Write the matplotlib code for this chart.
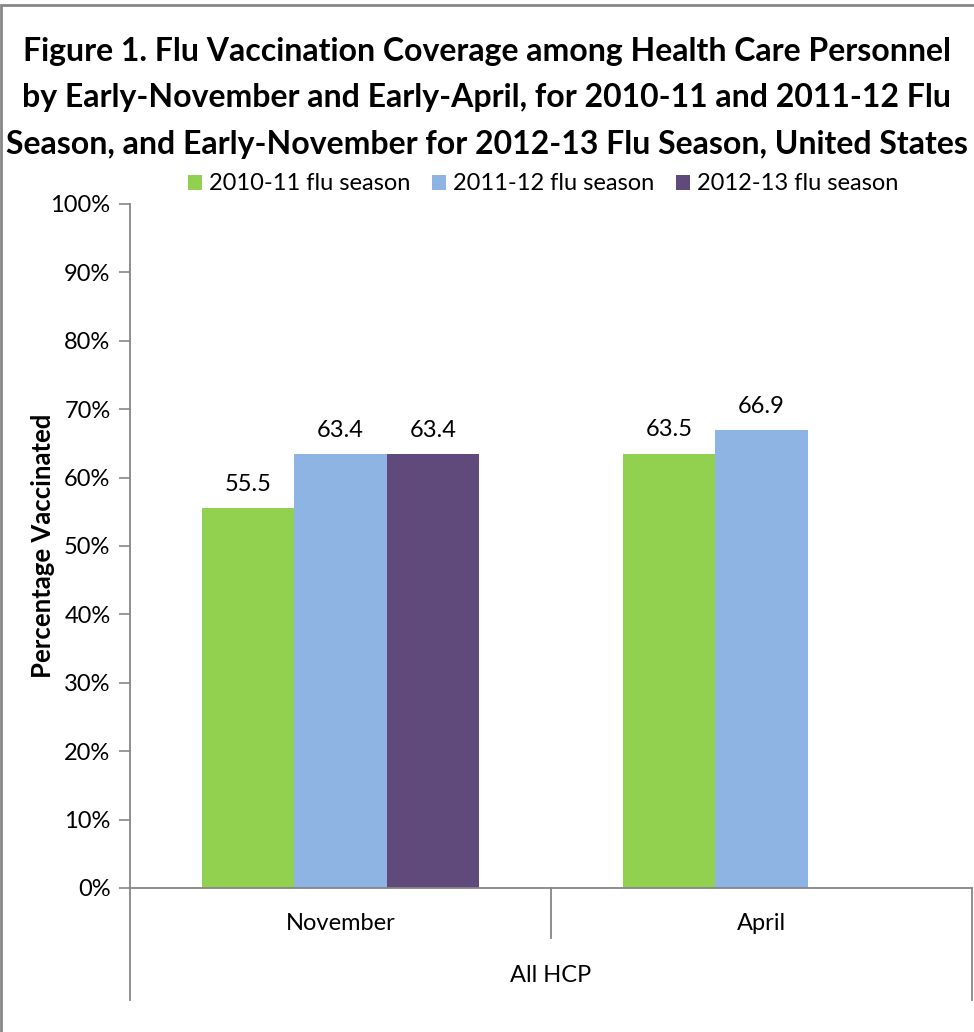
import matplotlib
matplotlib.use("Agg")
import matplotlib.pyplot as plt
from matplotlib.patches import Rectangle, Patch
from matplotlib.lines import Line2D
import numpy as np

plt.rcParams['font.family'] = ['Lato', 'DejaVu Sans']

categories = ["November", "April"]
group_label = "All HCP"
series_names = ["2010-11 flu season", "2011-12 flu season", "2012-13 flu season"]
values_2010 = [55.5, 63.5]
values_2011 = [63.4, 66.9]
values_2012 = [63.4, None]
series_values = [values_2010, values_2011, values_2012]
colors = ["#92D050", "#8EB4E3", "#604A7B"]
yticks = list(range(0, 101, 10))
title = ("Figure 1. Flu Vaccination Coverage among Health Care Personnel\n"
         "by Early-November and Early-April, for 2010-11 and 2011-12 Flu\n"
         "Season, and Early-November for 2012-13 Flu Season, United States")

W, H = 974, 1032
fig = plt.figure(figsize=(W / 100, H / 100), dpi=100)
ax = fig.add_axes([130 / W, 1 - 888 / H, (972 - 130) / W, (888 - 204) / H])

gray = "#868686"
FS = 17
bw = 0.22
x = np.arange(len(categories))
for i, (name, vals, c) in enumerate(zip(series_names, series_values, colors)):
    off = (i - 1) * bw
    for j, v in enumerate(vals):
        if v is None:
            continue
        ax.bar(x[j] + off, v, width=bw, color=c, edgecolor='none')
        ax.text(x[j] + off, v + 2.0, f"{v:.1f}", ha='center', va='bottom',
                fontsize=FS, color='black')

ax.set_xlim(-0.5, len(categories) - 0.5)
ax.set_ylim(0, 100)
ax.set_yticks(yticks)
ax.set_yticklabels([f"{t}%" for t in yticks], fontsize=FS)
ax.tick_params(axis='y', length=8, width=1.2, color=gray, pad=6)
ax.set_xticks([])
for s in ['top', 'right']:
    ax.spines[s].set_visible(False)
for s in ['left', 'bottom']:
    ax.spines[s].set_color(gray)
    ax.spines[s].set_linewidth(1.3)
ax.set_ylabel("Percentage Vaccinated", fontsize=18.5, fontweight='bold', labelpad=-3)

# multi-level category axis
tr = ax.get_xaxis_transform()
axh = (888 - 204)
def yax(px):
    return -px / axh
for xb in [-0.5, len(categories) - 0.5]:
    ax.add_line(Line2D([xb, xb], [0, yax(1000 - 888)], transform=tr, color=gray,
                       lw=1.3, clip_on=False))
for xb in np.arange(0.5, len(categories) - 0.5, 1):
    ax.add_line(Line2D([xb, xb], [0, yax(938 - 888)], transform=tr, color=gray,
                       lw=1.3, clip_on=False))
for j, cat in enumerate(categories):
    ax.text(x[j], yax(923 - 888), cat, transform=tr, ha='center', va='center', fontsize=FS)
ax.text((len(categories) - 1) / 2, yax(975 - 888), group_label, transform=tr,
        ha='center', va='center', fontsize=FS)

# legend
handles = [Patch(facecolor=c, edgecolor='none') for c in colors]
fig.legend(handles, series_names, loc='center', bbox_to_anchor=(543 / W, 1 - 184 / H),
           ncol=3, frameon=False, fontsize=FS, handlelength=0.6, handleheight=0.6,
           handletextpad=0.3, columnspacing=0.9)

# title
fig.text(487 / W, 1 - 98 / H, title, ha='center', va='center', fontsize=23,
         fontweight='bold', linespacing=1.72)

# outer frame
fig.add_artist(Rectangle((1 / W, -0.1), 1.2, 1 - 5 / H + 0.1, transform=fig.transFigure,
                         fill=False, edgecolor=gray, lw=2, clip_on=False))

fig.savefig("out.png", dpi=100)
